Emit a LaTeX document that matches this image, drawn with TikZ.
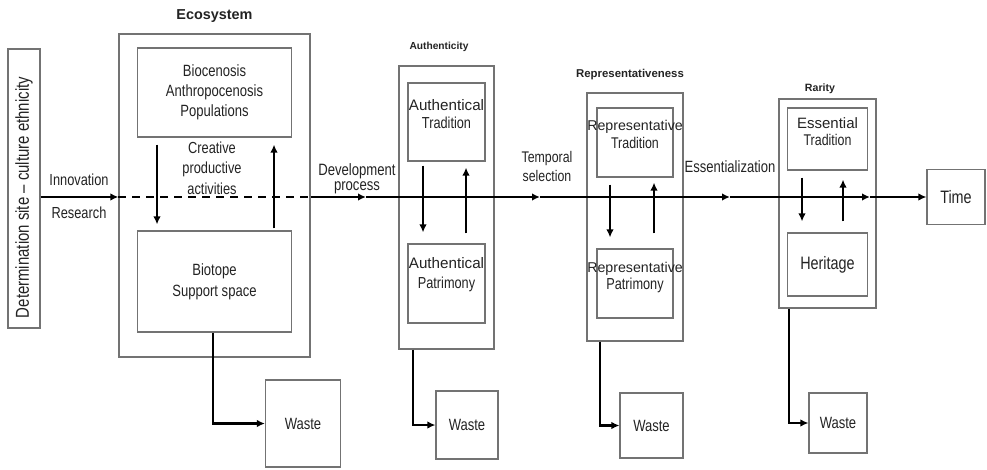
\documentclass[tikz,border=0pt]{standalone}
\usepackage{fontspec}
\setmainfont{Liberation Sans}[FakeStretch=0.8]
\newfontfamily\plainfont{Liberation Sans}
\usepackage{graphicx}
\usepackage{tikz}
\definecolor{boxgray}{RGB}{115,115,115}
\definecolor{textgray}{RGB}{35,35,35}
\usetikzlibrary{shapes,arrows.meta}
\tikzstyle{frame} = [rectangle, draw=boxgray, line width=1.2pt, inner sep=0pt]
\tikzstyle{block} = [rectangle, draw=boxgray, line width=1.2pt, inner sep=0pt,
    text=textgray, align=center, font=\fontsize{16.3}{20}\selectfont]
\tikzstyle{txt} = [inner sep=0pt, text=textgray, align=center,
    font=\fontsize{16}{19}\selectfont]
\tikzstyle{title} = [inner sep=0pt, text=textgray]
\tikzstyle{line} = [draw, line width=2.4pt, line join=miter, -{Latex[length=8pt,width=7.5pt]}]
\tikzstyle{dashline} = [draw, line width=2.4pt, dash pattern=on 8pt off 6pt]

\begin{document}
\begin{tikzpicture}[x=1pt, y=1pt, node distance=100pt]
  \useasboundingbox (0,0) rectangle (987,-470);
  \node [frame, minimum width=32pt, minimum height=279pt] (det) at (24,-188.5) {\rotatebox{90}{\fontsize{18.7}{20}\selectfont\color{textgray}\hspace*{-18pt}Determination site -- culture ethnicity}};
  \node [frame, minimum width=191pt, minimum height=323pt] (eco) at (214.5,-195.5) {};
  \node [title, above of=eco, node distance=179.5pt, font=\plainfont\bfseries\fontsize{14.4}{16}\selectfont] (eco_title) {Ecosystem};
  \node [block, minimum width=154pt, minimum height=89pt, above of=eco, node distance=103pt] (bio) {Biocenosis\\Anthropocenosis\\Populations};
  \node [block, minimum width=154pt, minimum height=101pt, below of=eco, node distance=86pt, font=\fontsize{16.3}{21}\selectfont] (biot) {Biotope\\Support space};
  \node [frame, minimum width=95pt, minimum height=283pt] (auth) at (446.5,-207.5) {};
  \node [title, above of=auth, node distance=160.5pt, xshift=-7.5pt, font=\plainfont\bfseries\fontsize{10.2}{12}\selectfont] (auth_title) {Authenticity};
  \node [block, minimum width=77pt, minimum height=78pt, above of=auth, node distance=85.5pt] (atrad) {};
  \node [txt, above of=atrad, node distance=8pt, font=\fontsize{15.9}{18}\selectfont] (atrad_txt) {{\plainfont\fontsize{15.2}{18}\selectfont Authentical}\\Tradition};
  \node [block, minimum width=77pt, minimum height=79pt, below of=auth, node distance=76pt] (apat) {};
  \node [txt, above of=apat, node distance=9pt, font=\fontsize{15.9}{20}\selectfont] (apat_txt) {{\plainfont\fontsize{15.2}{20}\selectfont Authentical}\\Patrimony};
  \node [frame, minimum width=96pt, minimum height=248pt] (rep) at (635,-217) {};
  \node [title, above of=rep, node distance=142pt, xshift=-5pt, font=\plainfont\bfseries\fontsize{11.4}{13}\selectfont] (rep_title) {Representativeness};
  \node [block, minimum width=76pt, minimum height=69pt, above of=rep, node distance=74.5pt] (rtrad) {};
  \node [txt, above of=rtrad, node distance=8pt, font=\fontsize{15.5}{18}\selectfont] (rtrad_txt) {{\plainfont\fontsize{14.2}{18}\selectfont Representative}\\Tradition};
  \node [block, minimum width=76pt, minimum height=69pt, below of=rep, node distance=66.5pt] (rpat) {};
  \node [txt, above of=rpat, node distance=6pt, font=\fontsize{15.9}{16.5}\selectfont] (rpat_txt) {{\plainfont\fontsize{14.2}{16.5}\selectfont Representative}\\Patrimony};
  \node [frame, minimum width=97pt, minimum height=209pt] (rar) at (827.5,-203.5) {};
  \node [title, above of=rar, node distance=114.5pt, xshift=-7.5pt, font=\plainfont\bfseries\fontsize{10.6}{12}\selectfont] (rar_title) {Rarity};
  \node [block, minimum width=80pt, minimum height=62pt, above of=rar, node distance=64.5pt] (etrad) {};
  \node [txt, above of=etrad, node distance=7pt, font=\fontsize{15.5}{17}\selectfont] (etrad_txt) {{\plainfont\fontsize{15}{17}\selectfont Essential}\\Tradition};
  \node [block, minimum width=80pt, minimum height=63pt, below of=rar, node distance=61pt, font=\fontsize{18}{20}\selectfont] (her) {Heritage};
  \node [block, minimum width=58pt, minimum height=55pt, font=\fontsize{18}{20}\selectfont] (time) at (956,-197) {Time};
  \node [block, minimum width=75pt, minimum height=87pt] (waste1) at (303,-423.5) {Waste};
  \node [block, minimum width=62pt, minimum height=68pt] (waste2) at (467,-425) {Waste};
  \node [block, minimum width=63pt, minimum height=65pt] (waste3) at (651.5,-425.5) {Waste};
  \node [block, minimum width=58pt, minimum height=60pt] (waste4) at (838,-423) {Waste};
  \node [txt] (innovation) at (79,-180) {Innovation};
  \node [txt] (research) at (79,-213) {Research};
  \node [txt, font=\fontsize{16}{20.5}\selectfont] (creative) at (212,-168) {Creative\\productive\\activities};
  \node [txt, font=\fontsize{16.4}{14.5}\selectfont] (devproc) at (357,-179) {Development\\process};
  \node [txt, font=\fontsize{15.4}{19}\selectfont] (temporal) at (547,-166.5) {Temporal\\selection};
  \node [txt, font=\fontsize{16.3}{19}\selectfont] (essz) at (730,-167) {Essentialization};
  \coordinate (axis) at (0,-197);
  \coordinate (dev) at (366,-197);
  \coordinate (sel) at (540,-197);
  \coordinate (ess) at (730,-197);
  \coordinate (rar_out) at (870,-197);
  \path [line] (det.east |- axis) -- (eco.west |- axis);
  \path [dashline] (eco.west |- axis) -- (eco.east |- axis);
  \path [line] (eco.east |- axis) -- (dev);
  \path [line] (dev) -- (sel);
  \path [line] (sel) -- (ess);
  \path [line] (ess) -- (rar_out);
  \path [line] (rar_out) -- (time.west);
  \path [line] ([xshift=-57.5pt,yshift=-7pt]bio.south) -- ([xshift=-57.5pt,yshift=6pt]biot.north);
  \path [line] ([xshift=59.5pt,yshift=2pt]biot.north) -- ([xshift=59.5pt,yshift=-7pt]bio.south);
  \path [line] ([xshift=-23.5pt,yshift=-4pt]atrad.south) -- ([xshift=-23.5pt,yshift=11pt]apat.north);
  \path [line] ([xshift=19.5pt,yshift=10pt]apat.north) -- ([xshift=19.5pt,yshift=-6pt]atrad.south);
  \path [line] ([xshift=-25pt,yshift=-7pt]rtrad.south) -- ([xshift=-25pt,yshift=11pt]rpat.north);
  \path [line] ([xshift=19pt,yshift=15pt]rpat.north) -- ([xshift=19pt,yshift=-5pt]rtrad.south);
  \path [line] ([xshift=-25.5pt,yshift=-7pt]etrad.south) -- ([xshift=-25.5pt,yshift=11pt]her.north);
  \path [line] ([xshift=15.5pt,yshift=11pt]her.north) -- ([xshift=15.5pt,yshift=-9pt]etrad.south);
  \path [line] ([xshift=-1.5pt]biot.south) |- (waste1.west);
  \path [line] ([xshift=-33.5pt]auth.south) |- (waste2.west);
  \path [line] ([xshift=-35pt]rep.south) |- (waste3.west);
  \path [line] ([xshift=-38.5pt]rar.south) |- (waste4.west);
\end{tikzpicture}
\end{document}
